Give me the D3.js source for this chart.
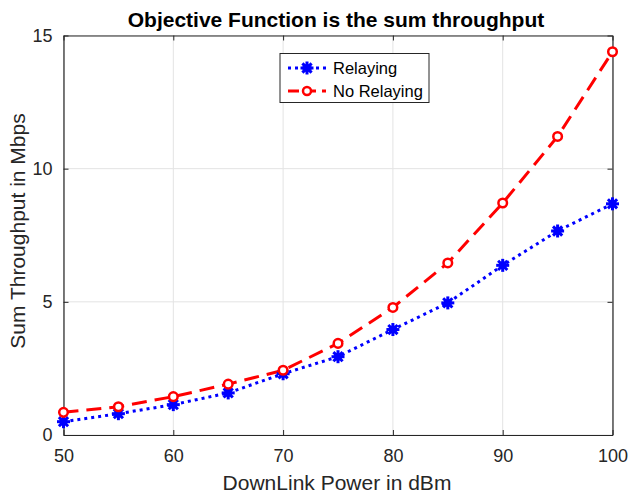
<!DOCTYPE html>
<html><head><meta charset="utf-8">
<script src="https://cdn.jsdelivr.net/npm/d3@7"></script>
<style>body{margin:0;background:#fff}svg{display:block;font-family:"Liberation Sans",Arial,sans-serif}</style>
</head><body><svg id="c" width="629" height="494"></svg>
<script>
const powers = [50,55,60,65,70,75,80,85,90,95,100];
const relaying = [0.50,0.80,1.14,1.58,2.30,2.94,3.96,4.96,6.37,7.66,8.68];
const noRelaying = [0.85,1.06,1.44,1.91,2.43,3.44,4.79,6.46,8.71,11.21,14.39];
const xTicks = [50,60,70,80,90,100];
const yTicks = [0,5,10,15];
const seriesNames = ["Relaying","No Relaying"];

const svg = d3.select("#c");
const L=63.5,R=612.5,T=35.5,B=435;
const x = d3.scaleLinear().domain([50,100]).range([L,R]);
const y = d3.scaleLinear().domain([0,15]).range([B,T]);

svg.append("rect").attr("x",0).attr("y",0).attr("width",629).attr("height",494).attr("fill","#fff");
// grid
const g = svg.append("g");
g.selectAll(".gx").data(xTicks).enter().append("line")
 .attr("x1",d=>x(d)).attr("x2",d=>x(d)).attr("y1",T).attr("y2",B).attr("stroke","#e3e3e3").attr("stroke-width",1);
g.selectAll(".gy").data(yTicks).enter().append("line")
 .attr("y1",d=>y(d)).attr("y2",d=>y(d)).attr("x1",L).attr("x2",R).attr("stroke","#e3e3e3").attr("stroke-width",1);

// axes
const ax = svg.append("g").attr("transform",`translate(0,${B})`).call(d3.axisBottom(x).tickValues(xTicks).tickSizeInner(-5).tickSizeOuter(0).tickPadding(14));
const axT = svg.append("g").attr("transform",`translate(0,${T})`).call(d3.axisTop(x).tickValues(xTicks).tickSizeInner(-5).tickSizeOuter(0).tickFormat(""));
const ay = svg.append("g").attr("transform",`translate(${L},0)`).call(d3.axisLeft(y).tickValues(yTicks).tickSizeInner(-5).tickSizeOuter(0).tickPadding(11));
const ayR = svg.append("g").attr("transform",`translate(${R},0)`).call(d3.axisRight(y).tickValues(yTicks).tickSizeInner(-5).tickSizeOuter(0).tickFormat(""));
[ax,axT,ay,ayR].forEach(a=>{
  a.attr("font-size",null);
  a.selectAll("path").attr("stroke","#262626").attr("stroke-width",1.2);
  a.selectAll("line").attr("stroke","#262626").attr("stroke-width",1);
  a.selectAll("text").attr("fill","#262626").style("font-size","18px").style("font-family","Liberation Sans, Arial, sans-serif");
});

// lines
const line = d3.line().x((d,i)=>x(powers[i])).y(d=>y(d));
svg.append("path").datum(noRelaying).attr("d",line).attr("fill","none").attr("stroke","#ff0000").attr("stroke-width",3).attr("stroke-dasharray","15,8");
svg.append("path").datum(relaying).attr("d",line).attr("fill","none").attr("stroke","#0000ff").attr("stroke-width",3).attr("stroke-dasharray","3,4");

function star(sel){
  sel.each(function(){
    const s=d3.select(this);
    for(let k=0;k<4;k++){
      const a=k*Math.PI/4, r=6.5;
      s.append("line").attr("x1",-r*Math.cos(a)).attr("y1",-r*Math.sin(a)).attr("x2",r*Math.cos(a)).attr("y2",r*Math.sin(a))
        .attr("stroke","#0000ff").attr("stroke-width",3);
    }
    s.append("circle").attr("r",4).attr("fill","#0000ff");
  });
}
svg.append("g").selectAll("g").data(relaying).enter().append("g")
 .attr("transform",(d,i)=>`translate(${x(powers[i])},${y(d)})`).call(star);
svg.append("g").selectAll("circle").data(noRelaying).enter().append("circle")
 .attr("cx",(d,i)=>x(powers[i])).attr("cy",d=>y(d)).attr("r",4.3).attr("fill","#fff").attr("stroke","#ff0000").attr("stroke-width",2.5);

// legend
const lg = svg.append("g");
lg.append("rect").attr("x",280).attr("y",53.5).attr("width",149).attr("height",49).attr("fill","#fff").attr("stroke","#262626").attr("stroke-width",1);
lg.append("line").attr("x1",288).attr("x2",326).attr("y1",68).attr("y2",68).attr("stroke","#0000ff").attr("stroke-width",3).attr("stroke-dasharray","3,4");
lg.append("g").attr("transform","translate(307,68)").call(star);
lg.append("line").attr("x1",288).attr("x2",326).attr("y1",91).attr("y2",91).attr("stroke","#ff0000").attr("stroke-width",3).attr("stroke-dasharray","11,6");
lg.append("circle").attr("cx",307).attr("cy",91).attr("r",4).attr("fill","#fff").attr("stroke","#ff0000").attr("stroke-width",2.5);
lg.selectAll("text").data(seriesNames).enter().append("text")
 .attr("x",333).attr("y",(d,i)=>74+i*23).text(d=>d).style("font-size","16.5px").attr("fill","#000");

// title & labels
svg.append("text").attr("x",336).attr("y",27).attr("text-anchor","middle").style("font-size","21px").style("font-weight","bold").attr("fill","#000").text("Objective Function is the sum throughput");
svg.append("text").attr("x",337).attr("y",490).attr("text-anchor","middle").style("font-size","21px").attr("fill","#262626").text("DownLink Power in dBm");
svg.append("text").attr("transform",`translate(25,231) rotate(-90)`).attr("text-anchor","middle").style("font-size","21px").attr("fill","#262626").text("Sum Throughput in Mbps");
</script></body></html>
